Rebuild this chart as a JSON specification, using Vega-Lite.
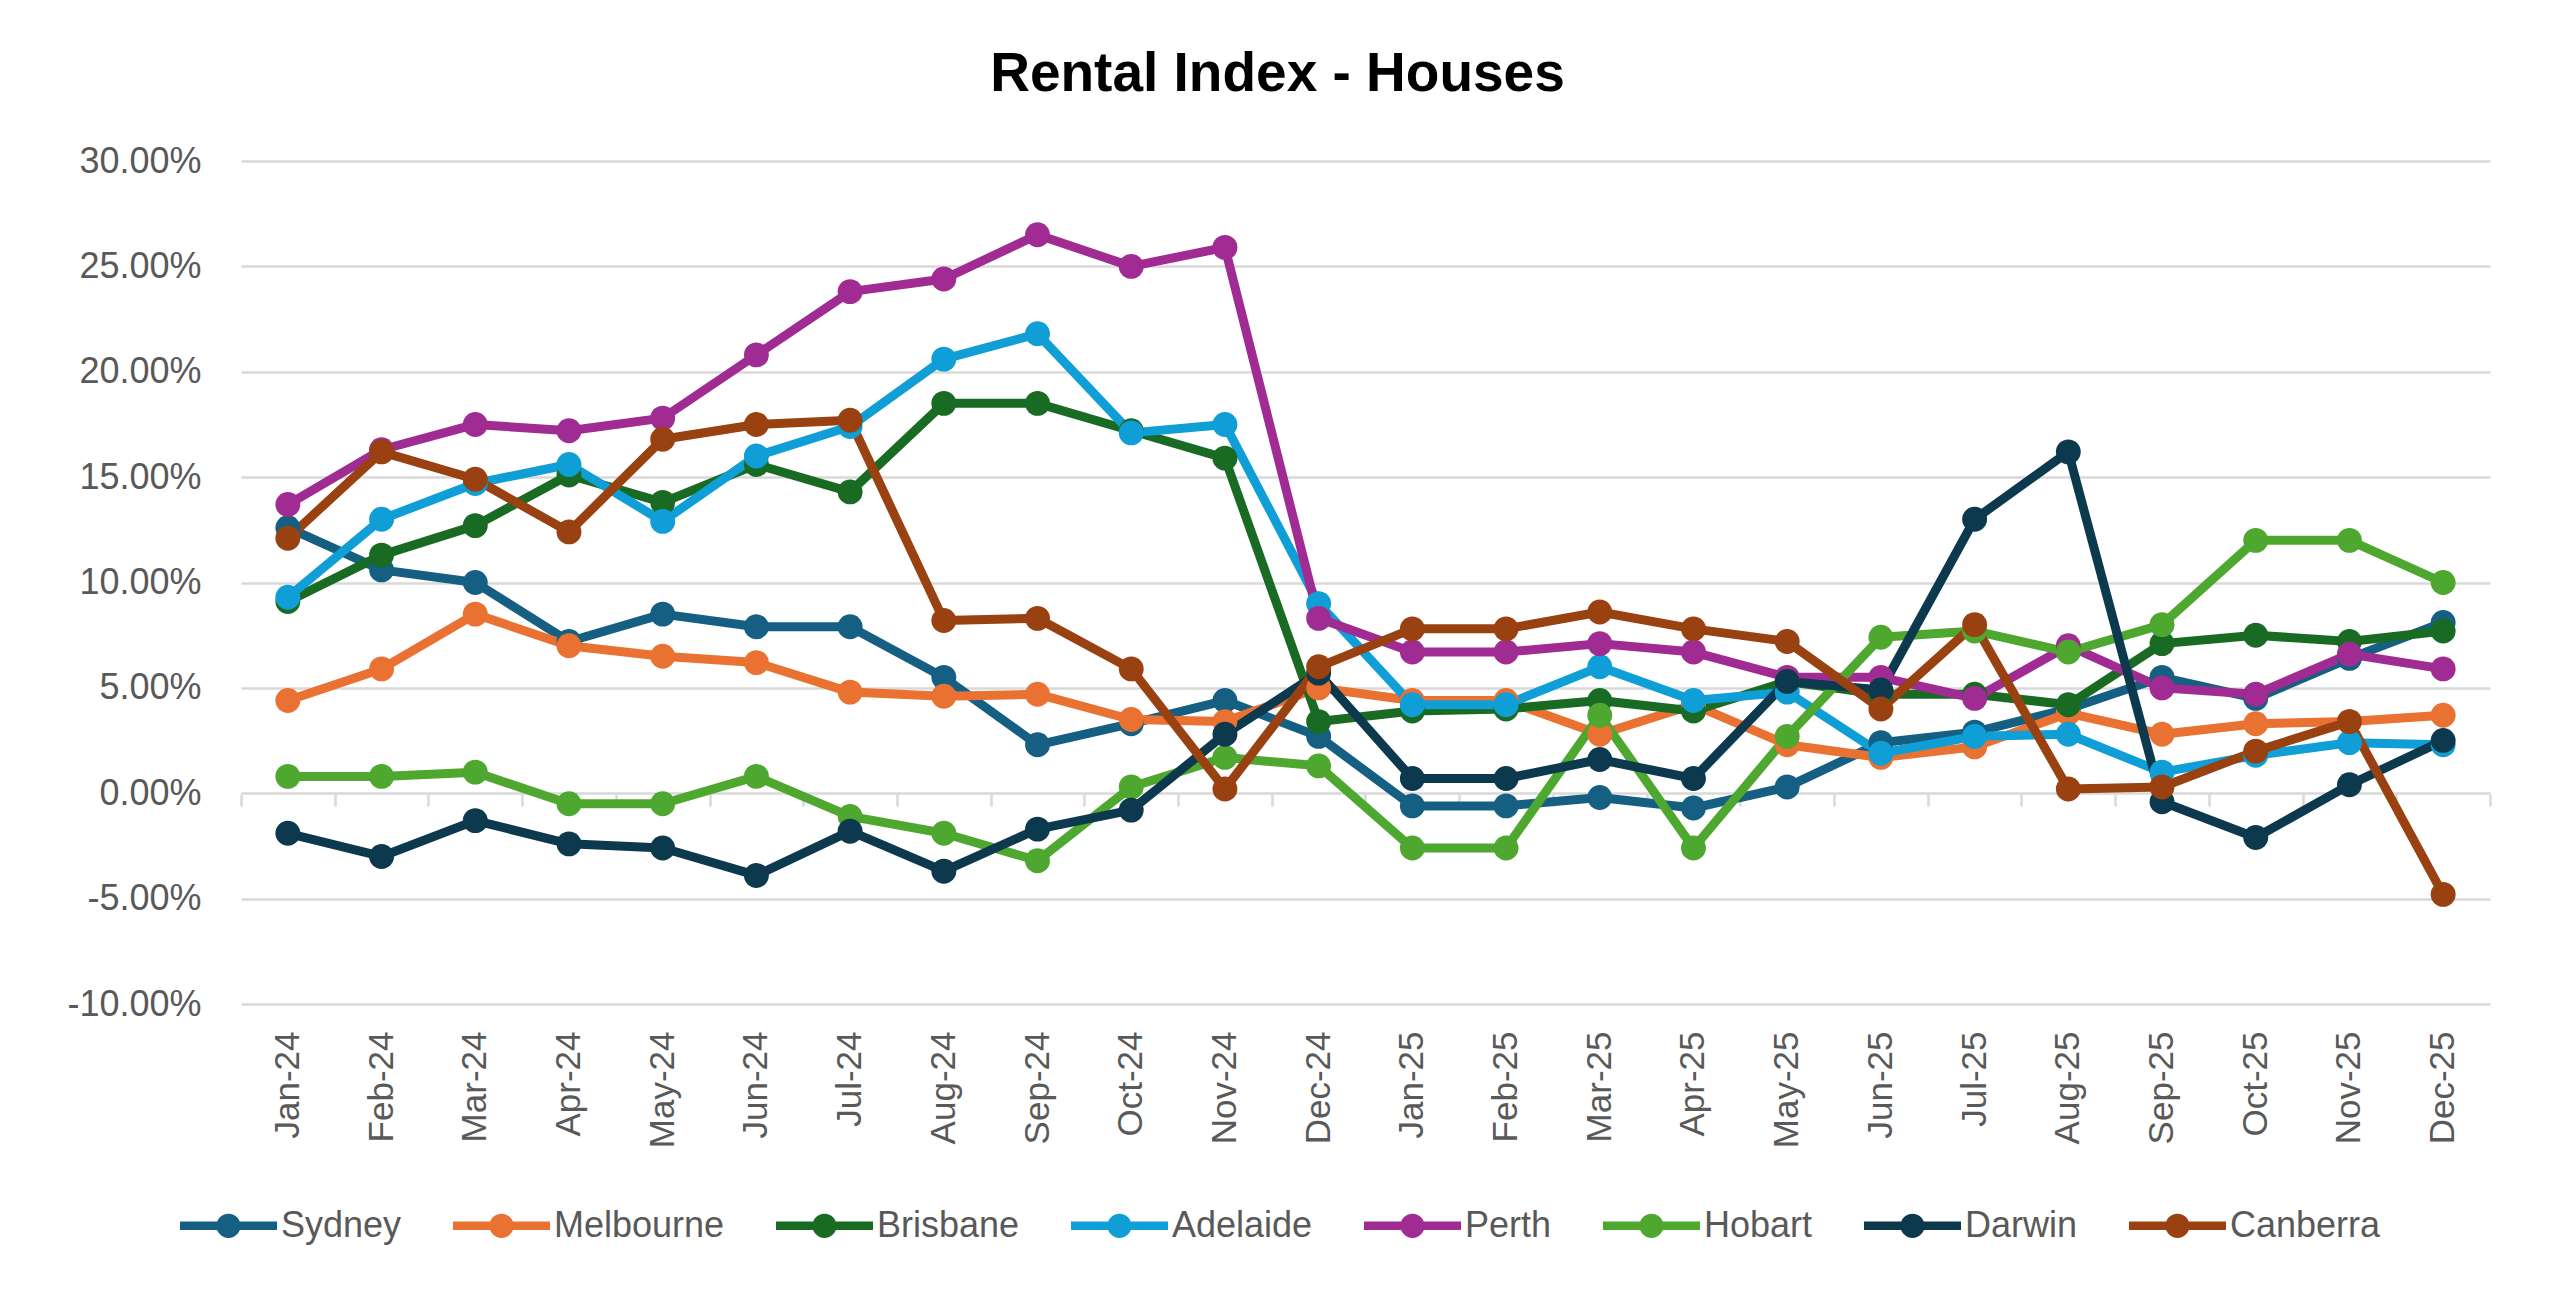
{
  "$schema": "https://vega.github.io/schema/vega-lite/v6.json",
  "width": 2249,
  "height": 843,
  "autosize": {"type": "none"},
  "padding": {"left": 241, "top": 161, "right": 67, "bottom": 293},
  "background": "white",
  "title": {"text": "Rental Index - Houses", "font": "Liberation Sans", "fontSize": 55, "fontWeight": "bold", "color": "#000000", "anchor": "middle", "frame": "group", "dx": -88, "baseline": "alphabetic", "offset": 0, "dy": 3},
  "config": {"view": {"stroke": null}, "font": "Liberation Sans"},
  "datasets": {
    "rent": [
      {"m":"Jan-24","c":"Sydney","v":0.126},{"m":"Feb-24","c":"Sydney","v":0.106},{"m":"Mar-24","c":"Sydney","v":0.100},{"m":"Apr-24","c":"Sydney","v":0.072},{"m":"May-24","c":"Sydney","v":0.085},{"m":"Jun-24","c":"Sydney","v":0.079},{"m":"Jul-24","c":"Sydney","v":0.079},{"m":"Aug-24","c":"Sydney","v":0.055},{"m":"Sep-24","c":"Sydney","v":0.023},{"m":"Oct-24","c":"Sydney","v":0.033},{"m":"Nov-24","c":"Sydney","v":0.044},{"m":"Dec-24","c":"Sydney","v":0.027},
      {"m":"Jan-25","c":"Sydney","v":-0.006},{"m":"Feb-25","c":"Sydney","v":-0.006},{"m":"Mar-25","c":"Sydney","v":-0.002},{"m":"Apr-25","c":"Sydney","v":-0.007},{"m":"May-25","c":"Sydney","v":0.003},{"m":"Jun-25","c":"Sydney","v":0.024},{"m":"Jul-25","c":"Sydney","v":0.029},{"m":"Aug-25","c":"Sydney","v":0.040},{"m":"Sep-25","c":"Sydney","v":0.055},{"m":"Oct-25","c":"Sydney","v":0.045},{"m":"Nov-25","c":"Sydney","v":0.064},{"m":"Dec-25","c":"Sydney","v":0.081},
      {"m":"Jan-24","c":"Melbourne","v":0.044},{"m":"Feb-24","c":"Melbourne","v":0.059},{"m":"Mar-24","c":"Melbourne","v":0.085},{"m":"Apr-24","c":"Melbourne","v":0.070},{"m":"May-24","c":"Melbourne","v":0.065},{"m":"Jun-24","c":"Melbourne","v":0.062},{"m":"Jul-24","c":"Melbourne","v":0.048},{"m":"Aug-24","c":"Melbourne","v":0.046},{"m":"Sep-24","c":"Melbourne","v":0.047},{"m":"Oct-24","c":"Melbourne","v":0.035},{"m":"Nov-24","c":"Melbourne","v":0.034},{"m":"Dec-24","c":"Melbourne","v":0.050},
      {"m":"Jan-25","c":"Melbourne","v":0.044},{"m":"Feb-25","c":"Melbourne","v":0.044},{"m":"Mar-25","c":"Melbourne","v":0.028},{"m":"Apr-25","c":"Melbourne","v":0.042},{"m":"May-25","c":"Melbourne","v":0.023},{"m":"Jun-25","c":"Melbourne","v":0.017},{"m":"Jul-25","c":"Melbourne","v":0.022},{"m":"Aug-25","c":"Melbourne","v":0.038},{"m":"Sep-25","c":"Melbourne","v":0.028},{"m":"Oct-25","c":"Melbourne","v":0.033},{"m":"Nov-25","c":"Melbourne","v":0.034},{"m":"Dec-25","c":"Melbourne","v":0.037},
      {"m":"Jan-24","c":"Brisbane","v":0.091},{"m":"Feb-24","c":"Brisbane","v":0.113},{"m":"Mar-24","c":"Brisbane","v":0.127},{"m":"Apr-24","c":"Brisbane","v":0.151},{"m":"May-24","c":"Brisbane","v":0.138},{"m":"Jun-24","c":"Brisbane","v":0.156},{"m":"Jul-24","c":"Brisbane","v":0.143},{"m":"Aug-24","c":"Brisbane","v":0.185},{"m":"Sep-24","c":"Brisbane","v":0.185},{"m":"Oct-24","c":"Brisbane","v":0.172},{"m":"Nov-24","c":"Brisbane","v":0.159},{"m":"Dec-24","c":"Brisbane","v":0.034},
      {"m":"Jan-25","c":"Brisbane","v":0.039},{"m":"Feb-25","c":"Brisbane","v":0.040},{"m":"Mar-25","c":"Brisbane","v":0.044},{"m":"Apr-25","c":"Brisbane","v":0.039},{"m":"May-25","c":"Brisbane","v":0.053},{"m":"Jun-25","c":"Brisbane","v":0.047},{"m":"Jul-25","c":"Brisbane","v":0.047},{"m":"Aug-25","c":"Brisbane","v":0.042},{"m":"Sep-25","c":"Brisbane","v":0.071},{"m":"Oct-25","c":"Brisbane","v":0.075},{"m":"Nov-25","c":"Brisbane","v":0.072},{"m":"Dec-25","c":"Brisbane","v":0.077},
      {"m":"Jan-24","c":"Adelaide","v":0.093},{"m":"Feb-24","c":"Adelaide","v":0.130},{"m":"Mar-24","c":"Adelaide","v":0.147},{"m":"Apr-24","c":"Adelaide","v":0.156},{"m":"May-24","c":"Adelaide","v":0.129},{"m":"Jun-24","c":"Adelaide","v":0.160},{"m":"Jul-24","c":"Adelaide","v":0.174},{"m":"Aug-24","c":"Adelaide","v":0.206},{"m":"Sep-24","c":"Adelaide","v":0.218},{"m":"Oct-24","c":"Adelaide","v":0.171},{"m":"Nov-24","c":"Adelaide","v":0.175},{"m":"Dec-24","c":"Adelaide","v":0.090},
      {"m":"Jan-25","c":"Adelaide","v":0.042},{"m":"Feb-25","c":"Adelaide","v":0.042},{"m":"Mar-25","c":"Adelaide","v":0.060},{"m":"Apr-25","c":"Adelaide","v":0.044},{"m":"May-25","c":"Adelaide","v":0.048},{"m":"Jun-25","c":"Adelaide","v":0.019},{"m":"Jul-25","c":"Adelaide","v":0.027},{"m":"Aug-25","c":"Adelaide","v":0.028},{"m":"Sep-25","c":"Adelaide","v":0.010},{"m":"Oct-25","c":"Adelaide","v":0.018},{"m":"Nov-25","c":"Adelaide","v":0.024},{"m":"Dec-25","c":"Adelaide","v":0.023},
      {"m":"Jan-24","c":"Perth","v":0.137},{"m":"Feb-24","c":"Perth","v":0.163},{"m":"Mar-24","c":"Perth","v":0.175},{"m":"Apr-24","c":"Perth","v":0.172},{"m":"May-24","c":"Perth","v":0.178},{"m":"Jun-24","c":"Perth","v":0.208},{"m":"Jul-24","c":"Perth","v":0.238},{"m":"Aug-24","c":"Perth","v":0.244},{"m":"Sep-24","c":"Perth","v":0.265},{"m":"Oct-24","c":"Perth","v":0.250},{"m":"Nov-24","c":"Perth","v":0.259},{"m":"Dec-24","c":"Perth","v":0.083},
      {"m":"Jan-25","c":"Perth","v":0.067},{"m":"Feb-25","c":"Perth","v":0.067},{"m":"Mar-25","c":"Perth","v":0.071},{"m":"Apr-25","c":"Perth","v":0.067},{"m":"May-25","c":"Perth","v":0.055},{"m":"Jun-25","c":"Perth","v":0.055},{"m":"Jul-25","c":"Perth","v":0.045},{"m":"Aug-25","c":"Perth","v":0.070},{"m":"Sep-25","c":"Perth","v":0.050},{"m":"Oct-25","c":"Perth","v":0.047},{"m":"Nov-25","c":"Perth","v":0.066},{"m":"Dec-25","c":"Perth","v":0.059},
      {"m":"Jan-24","c":"Hobart","v":0.008},{"m":"Feb-24","c":"Hobart","v":0.008},{"m":"Mar-24","c":"Hobart","v":0.010},{"m":"Apr-24","c":"Hobart","v":-0.005},{"m":"May-24","c":"Hobart","v":-0.005},{"m":"Jun-24","c":"Hobart","v":0.008},{"m":"Jul-24","c":"Hobart","v":-0.011},{"m":"Aug-24","c":"Hobart","v":-0.019},{"m":"Sep-24","c":"Hobart","v":-0.032},{"m":"Oct-24","c":"Hobart","v":0.003},{"m":"Nov-24","c":"Hobart","v":0.017},{"m":"Dec-24","c":"Hobart","v":0.013},
      {"m":"Jan-25","c":"Hobart","v":-0.026},{"m":"Feb-25","c":"Hobart","v":-0.026},{"m":"Mar-25","c":"Hobart","v":0.037},{"m":"Apr-25","c":"Hobart","v":-0.026},{"m":"May-25","c":"Hobart","v":0.027},{"m":"Jun-25","c":"Hobart","v":0.074},{"m":"Jul-25","c":"Hobart","v":0.077},{"m":"Aug-25","c":"Hobart","v":0.067},{"m":"Sep-25","c":"Hobart","v":0.080},{"m":"Oct-25","c":"Hobart","v":0.120},{"m":"Nov-25","c":"Hobart","v":0.120},{"m":"Dec-25","c":"Hobart","v":0.100},
      {"m":"Jan-24","c":"Darwin","v":-0.019},{"m":"Feb-24","c":"Darwin","v":-0.030},{"m":"Mar-24","c":"Darwin","v":-0.013},{"m":"Apr-24","c":"Darwin","v":-0.024},{"m":"May-24","c":"Darwin","v":-0.026},{"m":"Jun-24","c":"Darwin","v":-0.039},{"m":"Jul-24","c":"Darwin","v":-0.018},{"m":"Aug-24","c":"Darwin","v":-0.037},{"m":"Sep-24","c":"Darwin","v":-0.017},{"m":"Oct-24","c":"Darwin","v":-0.008},{"m":"Nov-24","c":"Darwin","v":0.028},{"m":"Dec-24","c":"Darwin","v":0.057},
      {"m":"Jan-25","c":"Darwin","v":0.007},{"m":"Feb-25","c":"Darwin","v":0.007},{"m":"Mar-25","c":"Darwin","v":0.016},{"m":"Apr-25","c":"Darwin","v":0.007},{"m":"May-25","c":"Darwin","v":0.053},{"m":"Jun-25","c":"Darwin","v":0.049},{"m":"Jul-25","c":"Darwin","v":0.130},{"m":"Aug-25","c":"Darwin","v":0.162},{"m":"Sep-25","c":"Darwin","v":-0.004},{"m":"Oct-25","c":"Darwin","v":-0.021},{"m":"Nov-25","c":"Darwin","v":0.004},{"m":"Dec-25","c":"Darwin","v":0.025},
      {"m":"Jan-24","c":"Canberra","v":0.121},{"m":"Feb-24","c":"Canberra","v":0.162},{"m":"Mar-24","c":"Canberra","v":0.149},{"m":"Apr-24","c":"Canberra","v":0.124},{"m":"May-24","c":"Canberra","v":0.168},{"m":"Jun-24","c":"Canberra","v":0.175},{"m":"Jul-24","c":"Canberra","v":0.177},{"m":"Aug-24","c":"Canberra","v":0.082},{"m":"Sep-24","c":"Canberra","v":0.083},{"m":"Oct-24","c":"Canberra","v":0.059},{"m":"Nov-24","c":"Canberra","v":0.002},{"m":"Dec-24","c":"Canberra","v":0.060},
      {"m":"Jan-25","c":"Canberra","v":0.078},{"m":"Feb-25","c":"Canberra","v":0.078},{"m":"Mar-25","c":"Canberra","v":0.086},{"m":"Apr-25","c":"Canberra","v":0.078},{"m":"May-25","c":"Canberra","v":0.072},{"m":"Jun-25","c":"Canberra","v":0.040},{"m":"Jul-25","c":"Canberra","v":0.080},{"m":"Aug-25","c":"Canberra","v":0.002},{"m":"Sep-25","c":"Canberra","v":0.003},{"m":"Oct-25","c":"Canberra","v":0.020},{"m":"Nov-25","c":"Canberra","v":0.034},{"m":"Dec-25","c":"Canberra","v":-0.048}
    ]
  },
  "data": {"name": "rent"},
  "encoding": {
    "y": {
      "field": "v", "type": "quantitative",
      "scale": {"domain": [-0.1, 0.3], "nice": false, "zero": false},
      "axis": {"title": null, "values": [-0.1, -0.05, 0, 0.05, 0.1, 0.15, 0.2, 0.25, 0.3], "labelExpr": "replace(format(datum.value, '.2%'), '\u2212', '-')", "labelFontSize": 36, "labelColor": "#595959", "labelPadding": 40, "domain": false, "ticks": false, "grid": true, "gridColor": "#D9D9D9", "gridWidth": 2.5}
    }
  },
  "layer": [
    {
      "mark": {"type": "line", "strokeWidth": 9, "strokeJoin": "round", "strokeCap": "round"},
      "encoding": {
        "x": {
          "field": "m", "type": "ordinal", "sort": null,
          "scale": {"type": "band", "paddingInner": 0, "paddingOuter": 0},
          "axis": {"orient": "bottom", "title": null, "labelAngle": -90, "labelFontSize": 35, "labelColor": "#595959", "labelPadding": 27, "domain": false, "ticks": false, "grid": false}
        },
        "color": {
          "field": "c", "type": "nominal",
          "scale": {"domain": ["Sydney", "Melbourne", "Brisbane", "Adelaide", "Perth", "Hobart", "Darwin", "Canberra"], "range": ["#156082", "#E97132", "#196B24", "#0F9ED5", "#A02B93", "#4EA72E", "#0D394E", "#994111"]},
          "legend": null
        },
        "detail": {"field": "c"}
      }
    },
    {
      "mark": {"type": "point", "filled": true, "size": 620, "opacity": 1},
      "encoding": {
        "x": {
          "field": "m", "type": "ordinal", "sort": null,
          "scale": {"type": "band", "paddingInner": 0, "paddingOuter": 0},
          "axis": {"orient": "bottom", "title": null, "labels": false, "offset": -210, "domain": false, "ticks": true, "tickBand": "extent", "tickSize": 12, "tickColor": "#D9D9D9", "tickWidth": 2.5, "grid": false}
        },
        "color": {
          "field": "c", "type": "nominal",
          "scale": {"domain": ["Sydney", "Melbourne", "Brisbane", "Adelaide", "Perth", "Hobart", "Darwin", "Canberra"], "range": ["#156082", "#E97132", "#196B24", "#0F9ED5", "#A02B93", "#4EA72E", "#0D394E", "#994111"]},
          "legend": {
            "title": null, "orient": "none", "legendX": -61, "legendY": 1016, "direction": "horizontal", "columns": 8,
            "symbolType": "M-1,-0.09 H1 V0.09 H-1 Z M-0.25,0 A0.25,0.25 0 1,1 0.25,0 A0.25,0.25 0 1,1 -0.25,0 Z",
            "symbolSize": 9409, "symbolStrokeWidth": 0, "symbolOpacity": 1,
            "labelFontSize": 36, "labelColor": "#595959", "labelOffset": 4, "columnPadding": 51, "labelLimit": 400
          }
        }
      }
    }
  ],
  "resolve": {"axis": {"x": "independent"}, "legend": {"color": "independent"}}
}
